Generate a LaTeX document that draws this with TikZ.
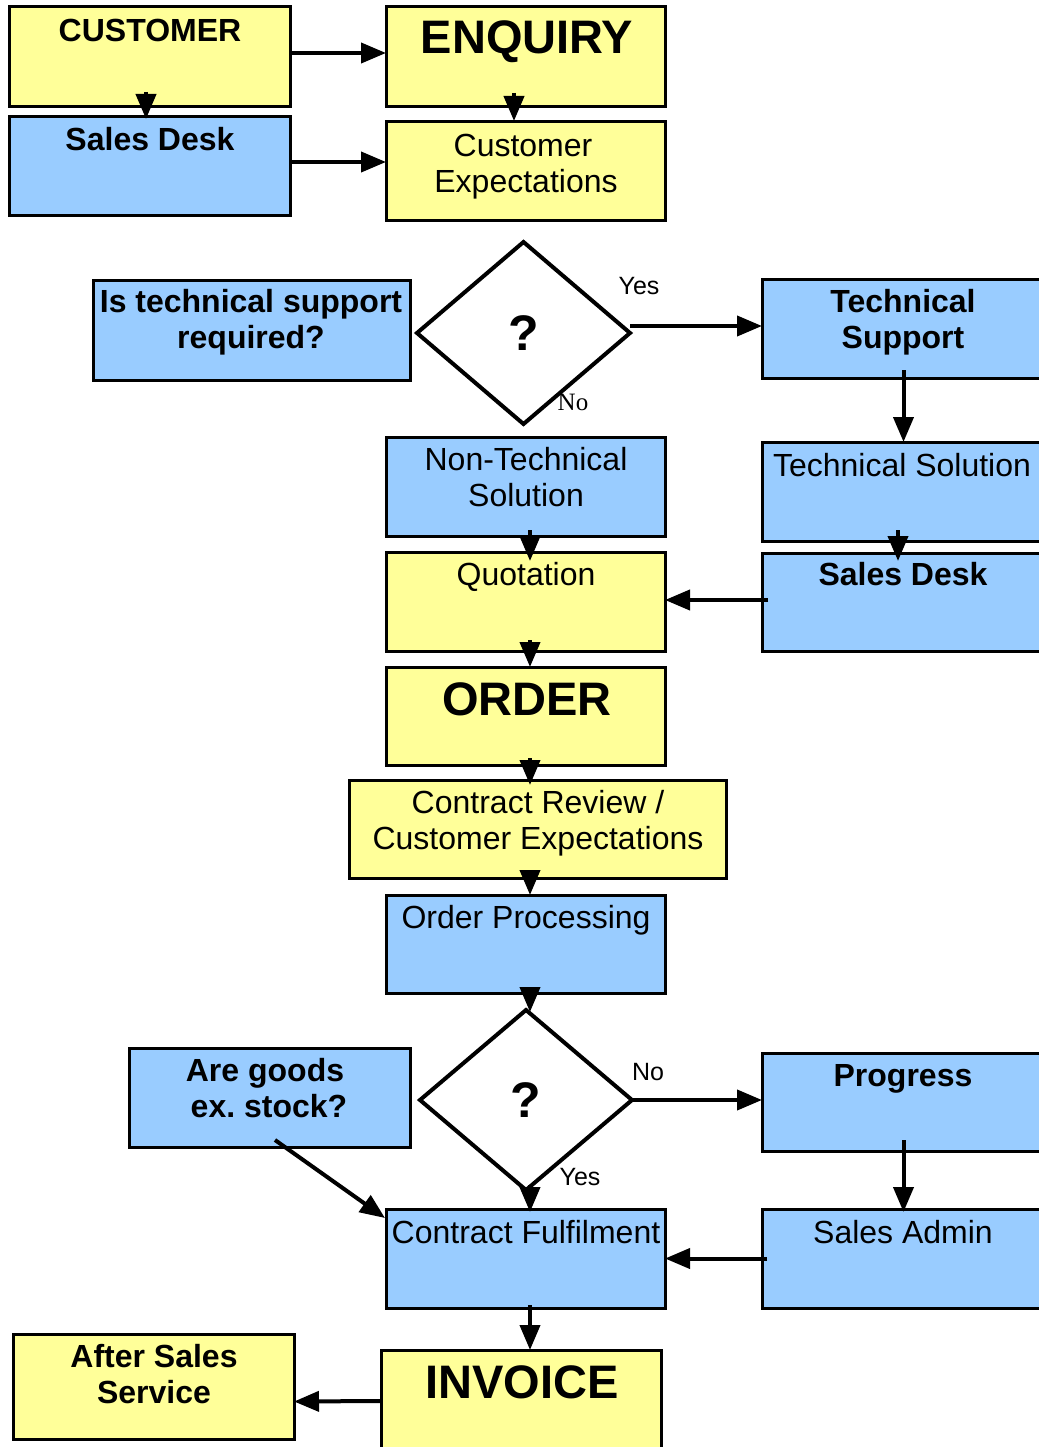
\documentclass[tikz,border=0pt]{standalone}
\usepackage{fontspec}
\setmainfont{Liberation Sans}
\newfontfamily\serifno{Liberation Serif}
\usetikzlibrary{arrows.meta,shapes.geometric}
\definecolor{yel}{HTML}{FFFF99}
\definecolor{blu}{HTML}{99CCFF}
\newcommand{\boxat}[6]{\node[#2, minimum width={#5-#3}, minimum height={#6-#4}] (#1) at (#3,#4) {};}
\frenchspacing
\begin{document}
\begin{tikzpicture}[x=1pt,y=-1pt,
 box/.style={draw=black, line width=3pt, rectangle, inner sep=0pt, outer sep=0pt, anchor=north west},
 ybox/.style={box, fill=yel},
 bbox/.style={box, fill=blu},
 reg/.style={font=\fontsize{32}{36}\selectfont, anchor=base, inner sep=0pt},
 bld/.style={font=\fontsize{32}{36}\selectfont\bfseries, anchor=base, inner sep=0pt},
 big/.style={font=\fontsize{47}{50}\selectfont\bfseries, anchor=base, inner sep=0pt},
 lab/.style={font=\fontsize{25}{28}\selectfont, anchor=base, inner sep=0pt},
 slab/.style={font=\fontsize{25}{28}\serifno\selectfont, anchor=base, inner sep=0pt},
 arr/.style={line width=4pt, -{Triangle[length=25pt,width=20pt]}},
 dia/.style={diamond, draw=black, line width=4pt, fill=white, inner sep=0pt, outer sep=0pt, font=\fontsize{50}{50}\selectfont\bfseries}
]
\useasboundingbox (0,0) rectangle (1038,1447);
\fill[white] (0,0) rectangle (1038,1447);
% boxes
\boxat{cust}{ybox}{9}{7}{290}{107}
\boxat{enq}{ybox}{386}{7}{665}{107}
\boxat{sdA}{bbox}{9}{117}{290}{216}
\boxat{ce}{ybox}{386}{122}{665}{221}
\boxat{itr}{bbox}{93}{280}{410}{380}
\boxat{ts}{bbox}{762}{279}{1045}{378}
\boxat{tsol}{bbox}{762}{442}{1045}{541}
\boxat{ntsol}{bbox}{386}{437}{665}{536}
\boxat{quo}{ybox}{386}{552}{665}{651}
\boxat{sdB}{bbox}{762}{553}{1045}{651}
\boxat{ord}{ybox}{386}{667}{665}{765}
\boxat{cr}{ybox}{349}{780}{726}{878}
\boxat{op}{bbox}{386}{895}{665}{993}
\boxat{ag}{bbox}{129}{1048}{410}{1147}
\boxat{prog}{bbox}{762}{1053}{1045}{1151}
\boxat{cf}{bbox}{386}{1209}{665}{1308}
\boxat{sa}{bbox}{762}{1209}{1045}{1308}
\boxat{as}{ybox}{13}{1334}{294}{1439}
\boxat{inv}{ybox}{381}{1350}{661}{1452}
% diamonds
\node[dia, minimum width=213pt, minimum height=182pt] (dA) at (523.5,333) {?};
\node[dia, minimum width=212pt, minimum height=180pt] (dB) at (526,1100) {?};
% texts
\node[bld] (t1) at (150,42) {CUSTOMER};
\node[big] (t2) at (527,54) {ENQUIRY};
\node[bld] (t3) at (150,151) {Sales Desk};
\node[reg] (t4a) at (523,157) {Customer};
\node[reg] (t4b) at (526,193) {Expectations};
\node[bld] (t5a) at (251,312) {Is technical support};
\node[bld] (t5b) at (251,348) {required?};
\node[bld] (t6a) at (903,312) {Technical};
\node[bld] (t6b) at (903,348) {Support};
\node[lab] (yA) at (639,294) {Yes};
\node[slab] (nA) at (573,410) {No};
\node[reg] (t7a) at (526,470) {Non-Technical};
\node[reg] (t7b) at (526,506) {Solution};
\node[reg] (t8) at (902,476) {Technical Solution};
\node[reg] (t9) at (526,585) {Quotation};
\node[bld] (t10) at (903,585) {Sales Desk};
\node[big] (t11) at (527,715) {ORDER};
\node[reg] (t12a) at (538,813) {Contract Review /};
\node[reg] (t12b) at (538,849) {Customer Expectations};
\node[reg] (t13) at (526,928) {Order Processing};
\node[lab] (nB) at (648,1080) {No};
\node[lab] (yB) at (580,1185) {Yes};
\node[bld] (t14a) at (265,1081) {Are goods};
\node[bld] (t14b) at (269,1117) {ex. stock?};
\node[bld] (t15) at (903,1086) {Progress};
\node[reg] (t16) at (526,1243) {Contract Fulfilment};
\node[reg] (t17) at (903,1243) {Sales Admin};
\node[bld] (t18a) at (154,1367) {After Sales};
\node[bld] (t18b) at (154,1403) {Service};
\node[big] (t19) at (522,1398) {INVOICE};
% arrows
\draw[arr] ([yshift=4pt]cust.east) -- ([yshift=4pt]enq.west);
\draw[arr] ([xshift=-3.5pt,yshift=15pt]cust.south) -- ([xshift=-3.5pt,yshift=-12pt]cust.south);
\draw[arr] ([xshift=-11.5pt,yshift=14pt]enq.south) -- ([xshift=-11.5pt,yshift=-14pt]enq.south);
\draw[arr] ([yshift=4.5pt]sdA.east) -- ([yshift=9.5pt]ce.west);
\draw[arr] ([yshift=7pt]dA.east) -- ([yshift=2.5pt]ts.west);
\draw[arr] ([yshift=8pt]ts.south) -- (tsol.north);
\draw[arr] ([xshift=-5.5pt,yshift=11pt]tsol.south) -- ([xshift=-5.5pt,yshift=-20pt]tsol.south);
\draw[arr] ([xshift=4.5pt,yshift=6pt]ntsol.south) -- ([xshift=4.5pt,yshift=-25pt]ntsol.south);
\draw[arr] ([xshift=6pt,yshift=2pt]sdB.west) -- ([yshift=1.5pt]quo.east);
\draw[arr] ([xshift=4.5pt,yshift=11pt]quo.south) -- ([xshift=4.5pt,yshift=-16pt]quo.south);
\draw[arr] ([xshift=4.5pt,yshift=7pt]ord.south) -- ([xshift=4.5pt,yshift=-20pt]ord.south);
\draw[arr] ([xshift=-7.5pt,yshift=8pt]cr.south) -- ([xshift=-7.5pt,yshift=-17pt]cr.south);
\draw[arr] ([xshift=4.5pt,yshift=3pt]op.south) -- ([xshift=4.5pt,yshift=-19pt]op.south);
\draw[arr] (dB.east) -- ([yshift=2pt]prog.west);
\draw[arr] ([xshift=4pt,yshift=5pt]dB.south) -- ([xshift=4pt,yshift=-22pt]dB.south);
\draw[arr] ([xshift=5.5pt,yshift=7pt]ag.south) -- ([xshift=-1pt,yshift=-9pt]cf.north west);
\draw[arr] ([yshift=11pt]prog.south) -- ([yshift=-3pt]sa.north);
\draw[arr] ([xshift=5pt]sa.west) -- (cf.east);
\draw[arr] ([xshift=4.5pt,yshift=3pt]cf.south) -- ([xshift=4.5pt,yshift=-42pt]cf.south);
\draw[arr] (inv.west) -- ([yshift=-15pt]as.east);
\end{tikzpicture}
\end{document}
